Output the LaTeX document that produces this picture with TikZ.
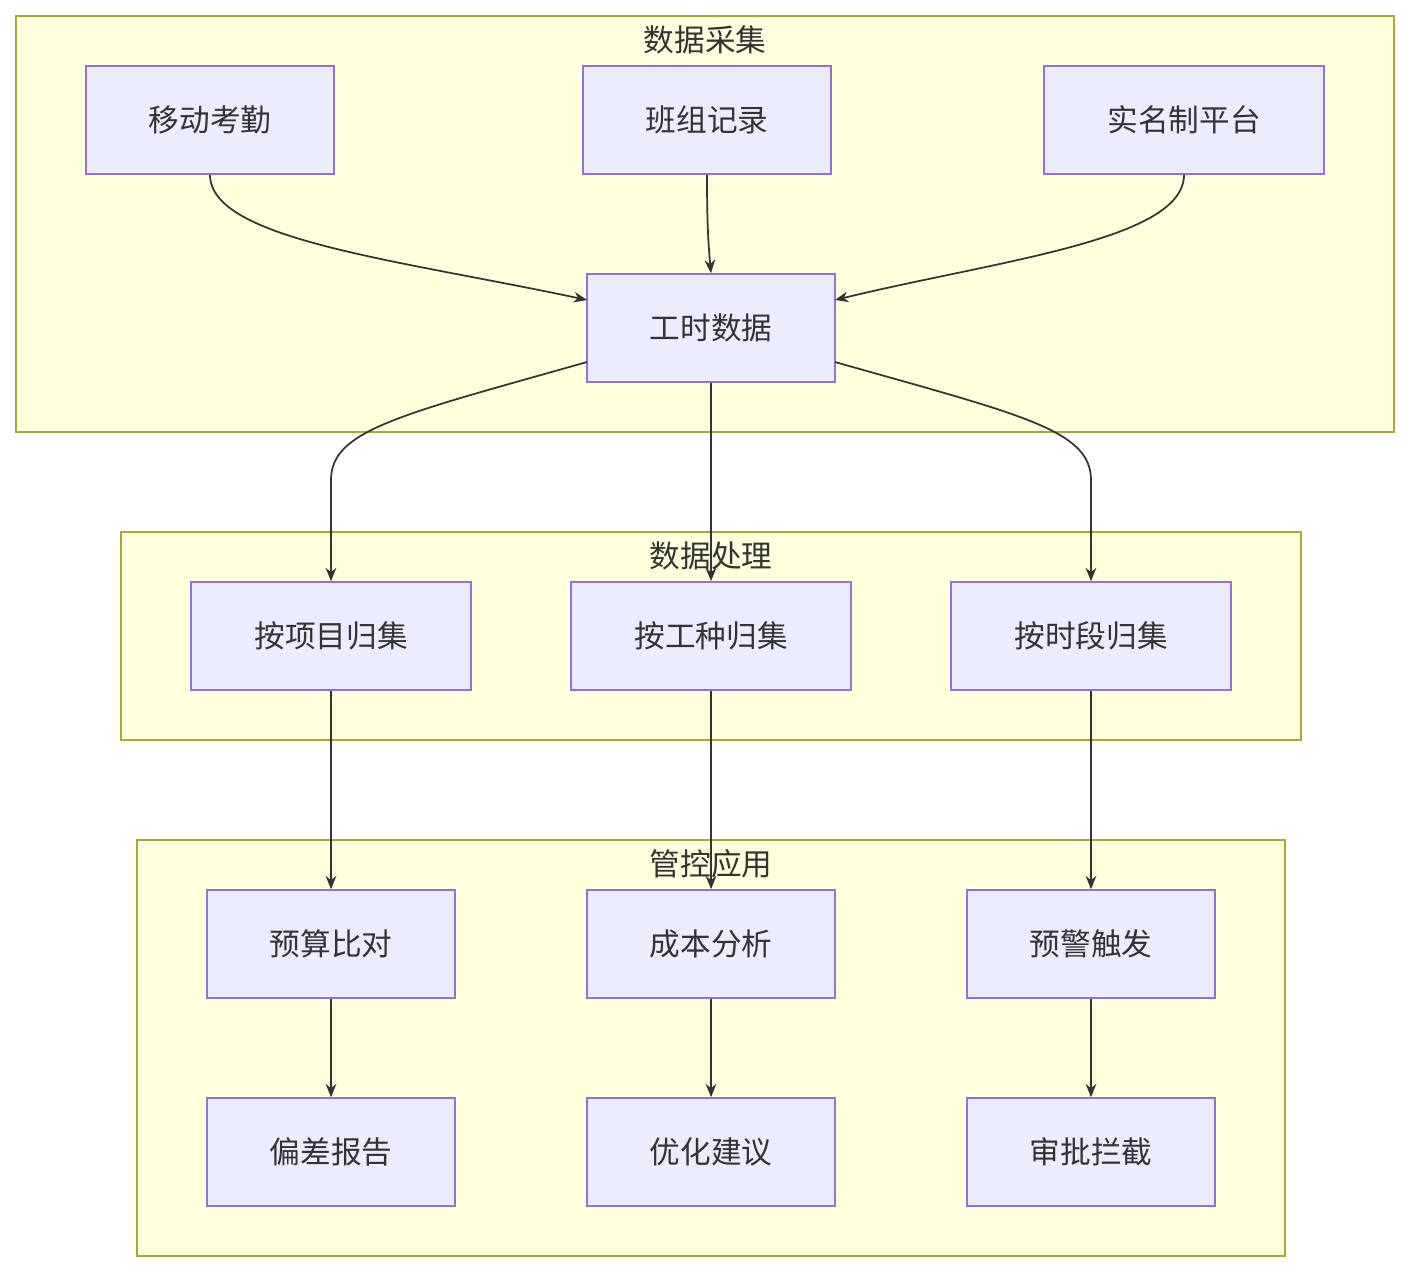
\documentclass[tikz,border=0pt]{standalone}
\usepackage{fontspec}
\newfontfamily\cjk{Noto Sans CJK SC}
\usetikzlibrary{arrows.meta}
\definecolor{nfill}{HTML}{ECECFF}
\definecolor{nline}{HTML}{9370DB}
\definecolor{cfill}{HTML}{FFFFDE}
\definecolor{cline}{HTML}{AAAA33}
\definecolor{txt}{HTML}{333333}
\begin{document}
\begin{tikzpicture}[x=0.75pt,y=-0.75pt,
  box/.style={draw=nline,fill=nfill,line width=1.2pt,minimum height=81pt,inner sep=0pt,text=txt,font=\cjk\fontsize{23}{27}\selectfont},
  w248/.style={box,minimum width=186pt},
  w280/.style={box,minimum width=210pt},
  clus/.style={draw=cline,fill=cfill,line width=1.2pt},
  ttl/.style={text=txt,font=\cjk\fontsize{23}{27}\selectfont},
  arr/.style={draw=txt,line width=1.3pt,-{Stealth[length=10pt,width=8pt]}}]
\useasboundingbox (0,0) rectangle (1410,1272);
\draw[clus] (16,16) rectangle (1394,432);
\draw[clus] (121,532) rectangle (1301,740);
\draw[clus] (137,840) rectangle (1285,1256);
\node[ttl] (t1) at (705,40) {数据采集};
\node[ttl] (t2) at (711,556) {数据处理};
\node[ttl] (t3) at (711,864) {管控应用};
\node[w248] (a) at (210,120) {移动考勤};
\node[w248] (b) at (707,120) {班组记录};
\node[w280] (c) at (1184,120) {实名制平台};
\node[w248] (d) at (711,328) {工时数据};
\node[w280] (p1) at (331,636) {按项目归集};
\node[w280] (p2) at (711,636) {按工种归集};
\node[w280] (p3) at (1091,636) {按时段归集};
\node[w248] (m1) at (331,944) {预算比对};
\node[w248] (m2) at (711,944) {成本分析};
\node[w248] (m3) at (1091,944) {预警触发};
\node[w248] (n1) at (331,1152) {偏差报告};
\node[w248] (n2) at (711,1152) {优化建议};
\node[w248] (n3) at (1091,1152) {审批拦截};
\coordinate (dl) at (587,300);
\coordinate (dr) at (835,300);
\coordinate (dl2) at (587,362);
\coordinate (dr2) at (835,362);
\draw[arr] (a.south) .. controls (210,240) and (400,260) .. (dl);
\draw[arr] (b.south) .. controls (707,220) and (708,240) .. (d.north);
\draw[arr] (c.south) .. controls (1184,240) and (1000,260) .. (dr);
\draw[arr] (dl2) .. controls (400,415) and (331,430) .. (331,480) -- (p1.north);
\draw[arr] (d.south) -- (p2.north);
\draw[arr] (dr2) .. controls (1022,415) and (1091,430) .. (1091,480) -- (p3.north);
\draw[arr] (p1.south) -- (m1.north);
\draw[arr] (p2.south) -- (m2.north);
\draw[arr] (p3.south) -- (m3.north);
\draw[arr] (m1.south) -- (n1.north);
\draw[arr] (m2.south) -- (n2.north);
\draw[arr] (m3.south) -- (n3.north);
\end{tikzpicture}
\end{document}
